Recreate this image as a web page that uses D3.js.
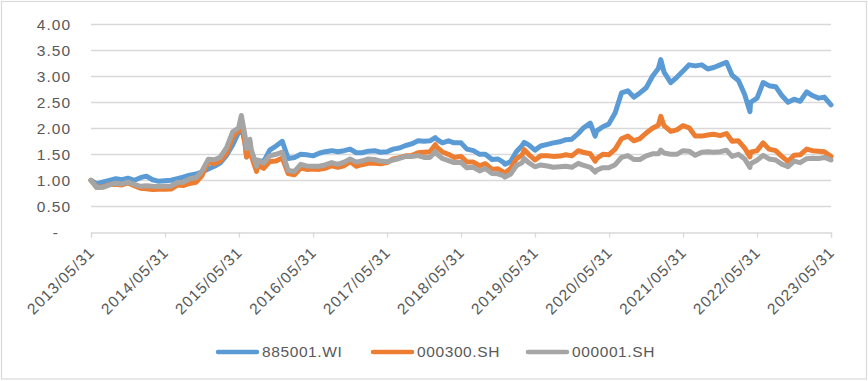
<!DOCTYPE html>
<html>
<head>
<meta charset="utf-8">
<script src="https://cdn.jsdelivr.net/npm/d3@7"></script>
<style>
  body { margin: 0; background: #fff; }
  svg text { font-family: "Liberation Sans", Arial, sans-serif; fill: #595959; }
</style>
</head>
<body>
<svg id="chart" width="868" height="381"></svg>
<script>
// dates (month ends plus a few intra-month turning points)
const dates = [
  "2013-05-31","2013-06-28","2013-07-31","2013-08-30","2013-09-30","2013-10-31","2013-11-29","2013-12-31",
  "2014-01-30","2014-02-28","2014-03-31","2014-04-30","2014-05-30","2014-06-30","2014-07-31","2014-08-29","2014-09-30","2014-10-31","2014-11-28","2014-12-31",
  "2015-01-30","2015-02-27","2015-03-31","2015-04-30","2015-05-29","2015-06-12","2015-06-30","2015-07-08","2015-07-24","2015-07-31","2015-08-26","2015-08-31","2015-09-30","2015-10-30","2015-11-30","2015-12-31",
  "2016-01-29","2016-02-29","2016-03-31","2016-04-29","2016-05-31","2016-06-30","2016-07-29","2016-08-31","2016-09-30","2016-10-31","2016-11-30","2016-12-30",
  "2017-01-26","2017-02-28","2017-03-31","2017-04-28","2017-05-31","2017-06-30","2017-07-31","2017-08-31","2017-09-29","2017-10-31","2017-11-30","2017-12-29",
  "2018-01-24","2018-01-31","2018-02-28","2018-03-30","2018-04-27","2018-05-31","2018-06-29","2018-07-31","2018-08-31","2018-09-28","2018-10-31","2018-11-30","2018-12-28",
  "2019-01-03","2019-01-31","2019-02-28","2019-03-29","2019-04-08","2019-04-30","2019-05-31","2019-06-28","2019-07-31","2019-08-30","2019-09-30","2019-10-31","2019-11-29","2019-12-31",
  "2020-01-23","2020-02-28","2020-03-23","2020-03-31","2020-04-30","2020-05-29","2020-06-30","2020-07-31","2020-08-31","2020-09-30","2020-10-30","2020-11-30","2020-12-31",
  "2021-01-29","2021-02-10","2021-02-26","2021-03-31","2021-04-30","2021-05-31","2021-06-30","2021-07-30","2021-08-31","2021-09-30","2021-10-29","2021-11-30","2021-12-31",
  "2022-01-28","2022-02-28","2022-03-31","2022-04-26","2022-04-29","2022-05-31","2022-06-30","2022-07-29","2022-08-31","2022-09-30","2022-10-31","2022-11-30","2022-12-30",
  "2023-01-31","2023-02-28","2023-03-31","2023-04-28","2023-05-31"
];

// 885001.WI
const wi885001 = [
  1.00,0.93,0.97,1.00,1.03,1.01,1.04,1.00,
  1.05,1.08,1.01,0.98,0.99,1.00,1.03,1.06,1.10,1.12,1.16,1.22,
  1.27,1.33,1.48,1.68,1.92,2.05,1.72,1.45,1.68,1.55,1.30,1.38,1.36,1.58,1.66,1.75,
  1.42,1.44,1.50,1.49,1.47,1.52,1.55,1.57,1.55,1.57,1.60,1.53,
  1.53,1.56,1.57,1.54,1.55,1.60,1.62,1.67,1.70,1.76,1.75,1.76,
  1.82,1.79,1.72,1.76,1.72,1.72,1.60,1.57,1.50,1.50,1.40,1.41,1.34,
  1.31,1.36,1.55,1.67,1.73,1.68,1.58,1.66,1.69,1.72,1.74,1.78,1.79,1.90,
  2.00,2.10,1.85,1.95,2.03,2.08,2.30,2.68,2.72,2.60,2.68,2.78,3.00,
  3.15,3.32,3.08,2.88,2.98,3.10,3.22,3.20,3.22,3.14,3.17,3.22,3.27,
  3.02,2.92,2.65,2.32,2.50,2.58,2.88,2.82,2.80,2.63,2.50,2.56,2.52,
  2.70,2.63,2.58,2.60,2.45
];

// 000300.SH
const csi300 = [
  1.00,0.865,0.875,0.92,0.925,0.91,0.95,0.895,
  0.846,0.837,0.824,0.829,0.829,0.832,0.909,0.90,0.94,0.963,1.08,1.357,
  1.32,1.37,1.52,1.82,1.97,2.07,1.72,1.45,1.65,1.47,1.17,1.29,1.23,1.36,1.37,1.43,
  1.13,1.105,1.236,1.21,1.217,1.21,1.23,1.28,1.25,1.28,1.36,1.27,
  1.30,1.326,1.33,1.32,1.34,1.41,1.435,1.47,1.474,1.53,1.54,1.55,
  1.686,1.64,1.545,1.50,1.44,1.46,1.35,1.35,1.28,1.32,1.21,1.22,1.157,
  1.14,1.23,1.41,1.49,1.59,1.50,1.39,1.47,1.47,1.46,1.465,1.49,1.47,1.57,
  1.54,1.51,1.37,1.42,1.50,1.49,1.60,1.80,1.85,1.76,1.80,1.91,2.00,
  2.06,2.23,2.05,1.94,1.97,2.05,2.01,1.85,1.85,1.87,1.885,1.86,1.90,
  1.75,1.76,1.62,1.45,1.54,1.57,1.72,1.60,1.57,1.46,1.36,1.48,1.49,
  1.60,1.57,1.56,1.55,1.46
];

// 000001.SH
const sse = [
  1.00,0.86,0.867,0.912,0.945,0.93,0.965,0.92,
  0.884,0.894,0.884,0.881,0.886,0.89,0.957,0.964,1.03,1.05,1.166,1.406,
  1.395,1.44,1.63,1.93,2.005,2.245,1.86,1.61,1.79,1.59,1.27,1.39,1.33,1.47,1.50,1.54,
  1.19,1.17,1.306,1.277,1.268,1.27,1.295,1.34,1.306,1.35,1.41,1.35,
  1.37,1.41,1.40,1.37,1.355,1.39,1.42,1.46,1.456,1.475,1.44,1.44,
  1.55,1.51,1.42,1.38,1.34,1.345,1.24,1.25,1.18,1.226,1.13,1.125,1.084,
  1.06,1.12,1.28,1.34,1.42,1.34,1.26,1.295,1.275,1.25,1.26,1.27,1.25,1.326,
  1.29,1.25,1.16,1.195,1.243,1.24,1.30,1.44,1.476,1.40,1.40,1.47,1.51,
  1.51,1.58,1.525,1.50,1.50,1.57,1.56,1.48,1.54,1.55,1.54,1.55,1.58,
  1.46,1.50,1.41,1.25,1.32,1.385,1.48,1.41,1.39,1.31,1.26,1.37,1.34,
  1.415,1.426,1.42,1.44,1.39
];

const yTicks = [0, 0.5, 1, 1.5, 2, 2.5, 3, 3.5, 4];
const xTickLabels = ["2013/05/31","2014/05/31","2015/05/31","2016/05/31","2017/05/31","2018/05/31",
                     "2019/05/31","2020/05/31","2021/05/31","2022/05/31","2023/05/31"];

const seriesNames = ["885001.WI", "000300.SH", "000001.SH"];
const seriesValues = [wi885001, csi300, sse];
const colors = ["#5B9BD5", "#ED7D31", "#A5A5A5"];

const parseDate = d3.timeParse("%Y-%m-%d");
const parseLabel = d3.timeParse("%Y/%m/%d");
const fmtLabel = d3.timeFormat("%Y/%m/%d");
const dateObjs = dates.map(parseDate);

const svg = d3.select("#chart");

// outer frame
svg.append("rect")
    .attr("x", 1.5).attr("y", 1.5)
    .attr("width", 865).attr("height", 377.5)
    .attr("fill", "#fff")
    .attr("stroke", "#d9d9d9")
    .attr("stroke-width", 1.2);

const x = d3.scaleTime()
    .domain([parseLabel(xTickLabels[0]), parseLabel(xTickLabels[xTickLabels.length - 1])])
    .range([91, 831]);

const y = d3.scaleLinear()
    .domain([0, 4])
    .range([232.3, 24.3]);

// gridlines
svg.append("g")
    .selectAll("line")
    .data(yTicks.filter(t => t > 0))
    .enter().append("line")
    .attr("x1", 91).attr("x2", 831)
    .attr("y1", d => Math.round(y(d)) + 0.5)
    .attr("y2", d => Math.round(y(d)) + 0.5)
    .attr("stroke", "#d9d9d9")
    .attr("stroke-width", 1.3);

// y axis labels
const yAxis = d3.axisLeft(y)
    .tickValues(yTicks)
    .tickSize(0)
    .tickPadding(0)
    .tickFormat(d => d === 0 ? "-" : d3.format(".2f")(d));

const gy = svg.append("g")
    .attr("transform", "translate(71,0)")
    .call(yAxis);
gy.select(".domain").remove();
gy.selectAll("text")
    .attr("font-size", "15.5px")
    .attr("letter-spacing", "1px")
    .attr("fill", "#595959")
    .attr("dy", "0.35em")
    .attr("dx", d => d === 0 ? -12 : 0);

// x axis
const xAxis = d3.axisBottom(x)
    .tickValues(xTickLabels.map(parseLabel))
    .tickSize(5)
    .tickFormat(fmtLabel);

const gx = svg.append("g")
    .attr("transform", `translate(0,${Math.round(y(0)) + 0.5})`)
    .call(xAxis);
gx.select(".domain").attr("stroke", "#d9d9d9").attr("stroke-width", 1.3);
gx.selectAll(".tick line").attr("stroke", "#d9d9d9").attr("stroke-width", 1.3);
gx.selectAll("text")
    .attr("font-size", "15.5px")
    .attr("letter-spacing", "1px")
    .attr("fill", "#595959")
    .attr("text-anchor", "end")
    .attr("y", 0).attr("dy", 0)
    .attr("transform", "translate(4,21) rotate(-45)");

// lines
const line = d3.line()
    .x((d, i) => x(dateObjs[i]))
    .y(d => y(d))
    .curve(d3.curveLinear);

svg.append("g")
    .selectAll("path")
    .data(seriesValues)
    .enter().append("path")
    .attr("d", d => line(d))
    .attr("fill", "none")
    .attr("stroke", (d, i) => colors[i])
    .attr("stroke-width", 5)
    .attr("stroke-linejoin", "round")
    .attr("stroke-linecap", "round");

// legend
const legend = svg.append("g").attr("transform", "translate(217,352)");
const item = legend.selectAll("g")
    .data(seriesNames)
    .enter().append("g")
    .attr("transform", (d, i) => `translate(${i * 155},0)`);

item.append("line")
    .attr("x1", 1).attr("x2", 40)
    .attr("y1", 0).attr("y2", 0)
    .attr("stroke", (d, i) => colors[i])
    .attr("stroke-width", 4.5)
    .attr("stroke-linecap", "round");

item.append("text")
    .attr("x", 45)
    .attr("dy", "0.35em")
    .attr("font-size", "15.5px")
    .attr("letter-spacing", "0.6px")
    .text(d => d);
</script>
</body>
</html>
